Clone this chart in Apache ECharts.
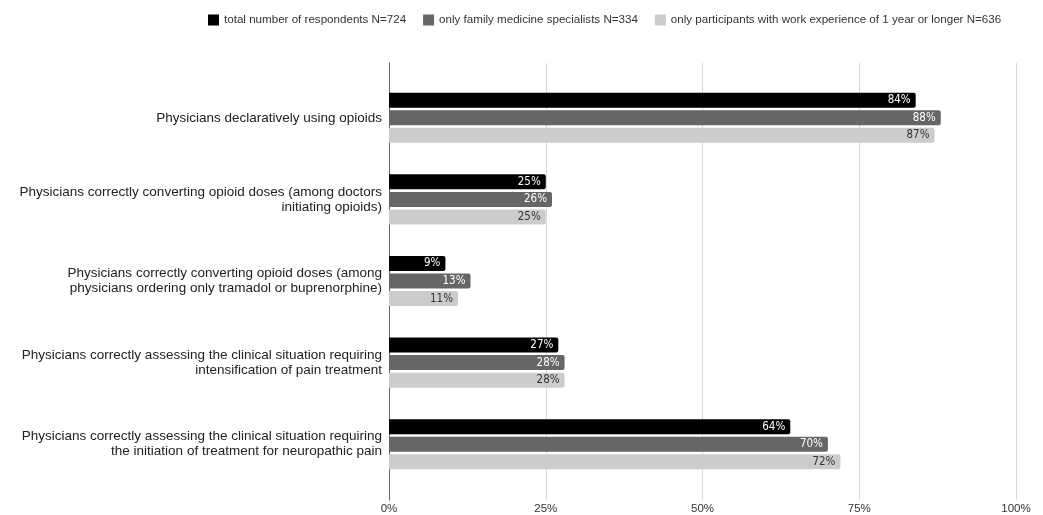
<!DOCTYPE html>
<html>
<head>
<meta charset="utf-8">
<script src="https://cdn.jsdelivr.net/npm/echarts@6/dist/echarts.min.js"></script>
<style>
  html, body { margin: 0; padding: 0; background: #fff; }
  #main { width: 1043px; height: 515px; }
</style>
</head>
<body>
<div id="main"></div>
<script>
const categories = [
  'Physicians declaratively using opioids',
  'Physicians correctly converting opioid doses (among doctors initiating opioids)',
  'Physicians correctly converting opioid doses (among physicians ordering only tramadol or buprenorphine)',
  'Physicians correctly assessing the clinical situation requiring intensification of pain treatment',
  'Physicians correctly assessing the clinical situation requiring the initiation of treatment for neuropathic pain'
];
const seriesNames = [
  'total number of respondents N=724',
  'only family medicine specialists N=334',
  'only participants with work experience of 1 year or longer N=636'
];
const totalValues = [84, 25, 9, 27, 64];
const familyValues = [88, 26, 13, 28, 70];
const experienceValues = [87, 25, 11, 28, 72];
const xTicks = [0, 25, 50, 75, 100];

const colors = ['#000000', '#666666', '#cccccc'];
const labelColors = ['#ffffff', '#ffffff', '#333333'];
const font = 'Liberation Sans, Arial, Helvetica, sans-serif';
const catFontSize = 13.5;

// word wrap so every line stays flush right (no trailing space)
const measureCtx = document.createElement('canvas').getContext('2d');
measureCtx.font = catFontSize + 'px ' + font;
function wrap(text, maxWidth) {
  let words = text.split(' ');
  let lines = [];
  let line = '';
  words.forEach(function (w) {
    let test = line ? line + ' ' + w : w;
    if (line && measureCtx.measureText(test).width > maxWidth) {
      lines.push(line);
      line = w;
    } else {
      line = test;
    }
  });
  if (line) lines.push(line);
  return lines.join('\n');
}

let myChart = echarts.init(document.getElementById('main'));

function makeSeries(name, data, i) {
  return {
    name: name,
    type: 'bar',
    xAxisIndex: 1,
    yAxisIndex: 1,
    data: data,
    barWidth: 15,
    barGap: '17%',
    itemStyle: { color: colors[i], borderRadius: [0, 2, 2, 0] },
    label: {
      show: true,
      position: 'insideRight',
      distance: 5,
      formatter: '{c}%',
      color: labelColors[i],
      fontSize: 11.5,
      fontFamily: 'DejaVu Sans Condensed, Liberation Sans, sans-serif'
    }
  };
}

let option = {
  animation: false,
  textStyle: { fontFamily: font },
  legend: {
    top: 9,
    left: 203,
    itemWidth: 11,
    itemHeight: 11,
    itemGap: 17,
    icon: 'rect',
    textStyle: { fontSize: 11.6, color: '#333', fontFamily: font },
    data: seriesNames
  },
  grid: [
    { left: 389, right: 27, top: 63, bottom: 15 },
    { left: 389, right: 27, top: 77, bottom: 30 }
  ],
  xAxis: [
    {
      gridIndex: 0,
      type: 'value',
      min: xTicks[0],
      max: xTicks[xTicks.length - 1],
      interval: 25,
      axisLine: { show: false },
      axisTick: { show: false },
      axisLabel: { formatter: '{value}%', color: '#333', fontSize: 11.5, margin: 3 },
      splitLine: { lineStyle: { color: '#d9d9d9', width: 1 } }
    },
    {
      gridIndex: 1,
      type: 'value',
      min: 0,
      max: 100,
      show: false
    }
  ],
  yAxis: [
    {
      gridIndex: 0,
      type: 'value',
      axisLine: { show: true, lineStyle: { color: '#666' } },
      axisTick: { show: false },
      axisLabel: { show: false },
      splitLine: { show: false }
    },
    {
      gridIndex: 1,
      type: 'category',
      inverse: true,
      data: categories,
      axisLine: { show: false },
      axisTick: { show: false },
      axisLabel: {
        color: '#222',
        fontSize: catFontSize,
        margin: 7,
        lineHeight: 15,
        align: 'right',
        formatter: function (v) { return wrap(v, 368); }
      }
    }
  ],
  series: [
    makeSeries(seriesNames[0], totalValues, 0),
    makeSeries(seriesNames[1], familyValues, 1),
    makeSeries(seriesNames[2], experienceValues, 2)
  ]
};
myChart.setOption(option);
</script>
</body>
</html>
